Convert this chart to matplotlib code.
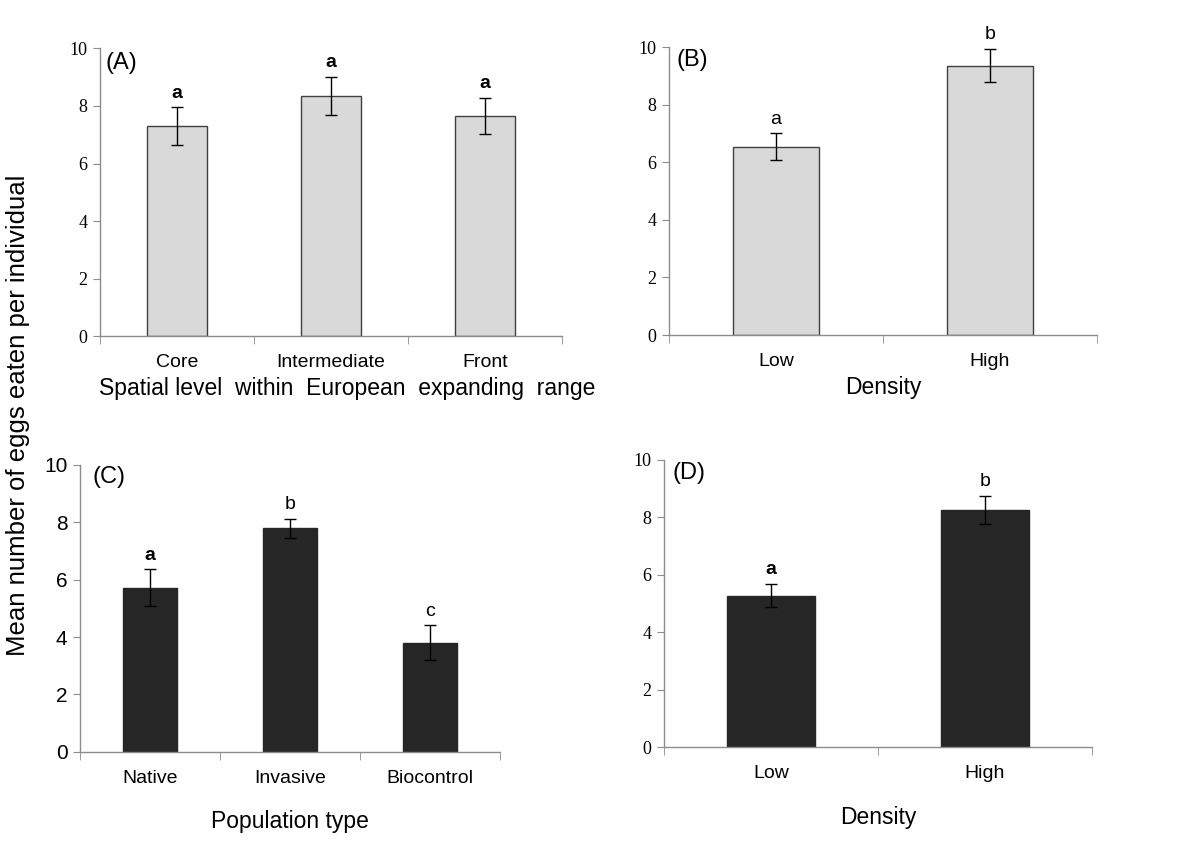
import numpy as np
import matplotlib
matplotlib.use("Agg")
import matplotlib.pyplot as plt

# data
cats_a = ["Core", "Intermediate", "Front"]
mean_a = [7.3, 8.35, 7.65]
se_a = [0.65, 0.67, 0.63]
let_a = ["a", "a", "a"]

cats_b = ["Low", "High"]
mean_b = [6.53, 9.35]
se_b = [0.47, 0.58]
let_b = ["a", "b"]

cats_c = ["Native", "Invasive", "Biocontrol"]
mean_c = [5.72, 7.79, 3.80]
se_c = [0.65, 0.34, 0.61]
let_c = ["a", "b", "c"]

cats_d = ["Low", "High"]
mean_d = [5.28, 8.26]
se_d = [0.41, 0.50]
let_d = ["a", "b"]

plt.rcParams['font.family'] = ['Liberation Sans', 'DejaVu Sans']

LIGHT = '#d9d9d9'
DARK = '#262626'
SPINE = '#8c8c8c'

fig = plt.figure(figsize=(12, 8.49), dpi=100)


def panel(rect, cats, means, errs, letters, color, edge, tag, tag_xy, xlabel,
          xlabel_pad, tick_font, tick_size, width, bold, label_x=0.5):
    ax = fig.add_axes(rect)
    x = np.arange(len(cats))
    ax.bar(x, means, width=width, color=color, edgecolor=edge, linewidth=1.0, zorder=2)
    ax.errorbar(x, means, yerr=errs, fmt='none', ecolor='black', elinewidth=1.0,
                capsize=4, capthick=1.0, zorder=3)
    for xi, m, e, l, b in zip(x, means, errs, letters, bold):
        ax.annotate(l, (xi, m + e), xytext=(0, 4), textcoords='offset points',
                    ha='center', va='bottom', fontsize=14,
                    fontweight='bold' if b else 'normal')
    n = len(cats)
    ax.set_xlim(-0.5, n - 0.5)
    ax.set_ylim(0, 10)
    ax.set_yticks([0, 2, 4, 6, 8, 10])
    ax.set_yticklabels(['0', '2', '4', '6', '8', '10'], family=tick_font, fontsize=tick_size)
    ax.set_xticks(x)
    ax.set_xticklabels(cats, fontsize=14)
    ax.set_xticks(np.arange(-0.5, n, 1.0), minor=True)
    ax.tick_params(axis='x', which='major', length=0, pad=13)
    ax.tick_params(axis='x', which='minor', length=6, color=SPINE, direction='out')
    ax.tick_params(axis='y', length=5, color=SPINE, direction='out', pad=4)
    for s in ['top', 'right']:
        ax.spines[s].set_visible(False)
    for s in ['left', 'bottom']:
        ax.spines[s].set_color(SPINE)
        ax.spines[s].set_linewidth(1.0)
    ax.text(tag_xy[0], tag_xy[1], tag, transform=ax.transAxes, ha='left',
            va='center', fontsize=17)
    ax.set_xlabel(xlabel, fontsize=16.5, labelpad=xlabel_pad)
    ax.xaxis.label.set_x(label_x)
    return ax


panel([0.0833, 0.604, 0.385, 0.339], cats_a, mean_a, se_a, let_a, LIGHT, '#404040',
      '(A)', (0.012, 0.948), 'Spatial level  within  European  expanding  range', 4,
      'Liberation Serif', 13, 0.39, [True, True, True], label_x=0.535)
panel([0.5575, 0.6054, 0.3567, 0.3392], cats_b, mean_b, se_b, let_b, LIGHT, '#404040',
      '(B)', (0.017, 0.955), 'Density', 4,
      'Liberation Serif', 13, 0.40, [False, False])
panel([0.0667, 0.1146, 0.35, 0.3377], cats_c, mean_c, se_c, let_c, DARK, DARK,
      '(C)', (0.029, 0.958), 'Population type', 17,
      'Liberation Sans', 15, 0.39, [True, False, False])
panel([0.5533, 0.1198, 0.3567, 0.3384], cats_d, mean_d, se_d, let_d, DARK, DARK,
      '(D)', (0.019, 0.955), 'Density', 17,
      'Liberation Serif', 13, 0.41, [True, False])

fig.text(0.015, 0.511, 'Mean number of eggs eaten per individual', rotation=90,
         ha='center', va='center', fontsize=18.5)

fig.savefig('out.png', dpi=100)
